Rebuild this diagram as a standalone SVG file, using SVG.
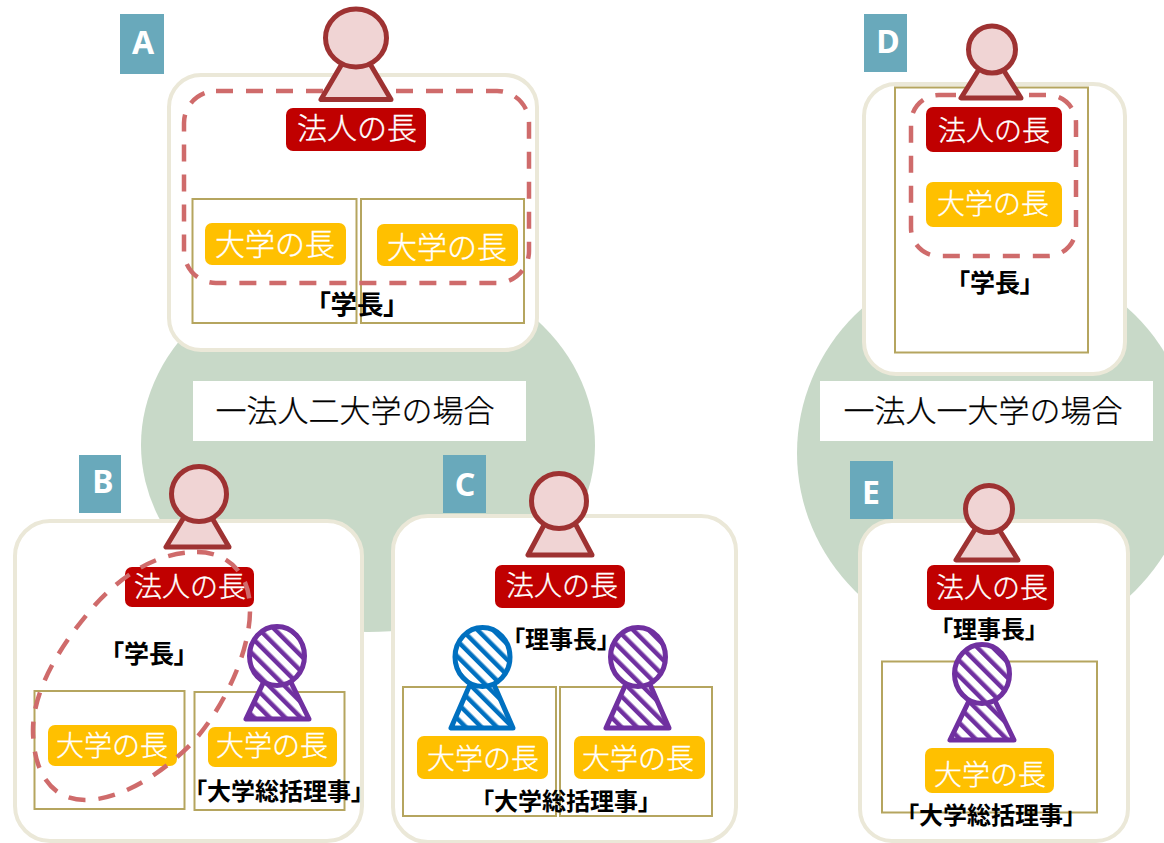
<svg xmlns="http://www.w3.org/2000/svg" width="1164" height="843" viewBox="0 0 1164 843">
<style>
text{font-family:"Noto Sans CJK JP","Noto Sans",sans-serif;text-anchor:middle}
.bg{fill:#c8d9c8}
.panel{fill:#fff;stroke:#ebe8d8;stroke-width:4}
.badge{fill:#69a9bb}
.bt{font-family:"Noto Sans",sans-serif;font-weight:700;font-size:32px;fill:#fff}
.cap{fill:#fff}
.capt{font-size:31px;fill:#000;font-weight:300;stroke:#000;stroke-width:.25px}
.box{fill:none;stroke:#b5a55f;stroke-width:2}
.dash{fill:none;stroke:#cf6b6b;stroke-width:4.500;stroke-dasharray:17 13}
.red{fill:#c00000}
.yel{fill:#ffc000}
.lt{fill:#fff;font-size:28px;font-weight:300;stroke:#fff;stroke-width:.35px}
.lg{fill:#fff;font-size:30px;font-weight:300;stroke:#fff;stroke-width:.35px}
.bold{font-weight:700;font-size:24px;fill:#000;font-feature-settings:"palt"}
.b2{font-size:25px}
.b3{font-size:26.500px}
.p{fill:#f0d4d4;stroke:#9e3232;stroke-width:5;stroke-linejoin:round}
.s-p{fill:url(#sp);stroke:#7030a0;stroke-width:5;stroke-linejoin:round}
.s-b{fill:url(#sb);stroke:#0070c0;stroke-width:5;stroke-linejoin:round}
</style>
<defs>
<pattern id="sp" width="11" height="11" patternUnits="userSpaceOnUse" patternTransform="rotate(-45)"><rect width="11" height="11" fill="#fff"/><rect width="4.500" height="11" fill="#7030a0"/></pattern>
<pattern id="sb" width="11" height="11" patternUnits="userSpaceOnUse" patternTransform="rotate(-45)"><rect width="11" height="11" fill="#fff"/><rect width="4.500" height="11" fill="#0070c0"/></pattern>
</defs>
<g id="background">
<ellipse class="bg" cx="368" cy="445" rx="227" ry="187"/>
<ellipse class="bg" cx="995" cy="453" rx="198" ry="195"/>
<rect class="cap" x="193" y="381" width="333" height="60"/>
<text class="capt" x="355" y="422">一法人二大学の場合</text>
<rect class="cap" x="820" y="381" width="333" height="60"/>
<text class="capt" x="983" y="422">一法人一大学の場合</text>
</g>
<g id="node-A">
<rect class="panel" x="169" y="75" width="368" height="275" rx="32"/>
<rect class="badge" x="120" y="14" width="44" height="60"/>
<text class="bt" x="143" y="54">A</text>
<rect class="box" x="192.500" y="199" width="164" height="124"/>
<rect class="box" x="361" y="199" width="163" height="124"/>
<rect class="red" x="286" y="108" width="140" height="43" rx="7"/>
<text class="lg" x="357" y="139">法人の長</text>
<rect class="yel" x="205" y="223" width="141" height="42" rx="7"/>
<text class="lg" x="275" y="255">大学の長</text>
<rect class="yel" x="377" y="224" width="141" height="42" rx="7"/>
<text class="lg" x="447" y="258">大学の長</text>
<rect class="dash" x="184" y="91" width="345" height="192" rx="32"/>
<text class="bold b3" x="357" y="314">「学長」</text>
<path class="p" d="M321,99.500 L391,99.500 L356,40 Z"/>
<ellipse class="p" cx="356" cy="38" rx="30.500" ry="29"/>
</g>
<g id="node-B">
<rect class="panel" x="15" y="521" width="347" height="320" rx="35"/>
<rect class="badge" x="79" y="455" width="42" height="58"/>
<text class="bt" x="103" y="493">B</text>
<rect class="box" x="34.500" y="691" width="150" height="118"/>
<rect class="box" x="194.500" y="692" width="150" height="118"/>
<rect class="red" x="125" y="567" width="129" height="40" rx="7"/>
<text class="lt" x="190" y="597">法人の長</text>
<rect class="yel" x="48" y="725" width="129" height="41" rx="7"/>
<text class="lt" x="112" y="756">大学の長</text>
<rect class="yel" x="208" y="727" width="129" height="40" rx="7"/>
<text class="lt" x="272" y="756">大学の長</text>
<path class="dash" d="M197,552 C225,552 250,570 250,610 C250,660 215,720 190,745 C160,775 120,800 85,800 C50,800 33,770 33,730 C33,690 60,645 95,605 C125,572 160,552 197,552 Z"/>
<text class="bold b2" x="149" y="663">「学長」</text>
<text class="bold" x="279" y="800">「大学総括理事」</text>
<path class="p" d="M166,547 L229,547 L198,494 Z"/>
<circle class="p" cx="199" cy="494" r="27.500"/>
<path class="s-p" d="M246,719 L309,719 L277,654 Z"/>
<ellipse class="s-p" cx="277" cy="656" rx="27.500" ry="29.500"/>
</g>
<g id="node-C">
<rect class="panel" x="393" y="516" width="343" height="326" rx="35"/>
<rect class="badge" x="443" y="455" width="43" height="58"/>
<text class="bt" x="465" y="496">C</text>
<rect class="box" x="403" y="687" width="153" height="129"/>
<rect class="box" x="560" y="687" width="152" height="129"/>
<rect class="red" x="495" y="565" width="130" height="43" rx="7"/>
<text class="lt" x="562" y="596">法人の長</text>
<rect class="yel" x="417" y="736" width="131" height="43" rx="7"/>
<text class="lt" x="483" y="769">大学の長</text>
<rect class="yel" x="574" y="736" width="131" height="43" rx="7"/>
<text class="lt" x="638" y="769">大学の長</text>
<path class="p" d="M528,555 L592,555 L560,495 Z"/>
<circle class="p" cx="559" cy="501" r="27.500"/>
<path class="s-b" d="M451,728 L513,728 L482,657 Z"/>
<ellipse class="s-b" cx="482.500" cy="657" rx="27.500" ry="29.500"/>
<path class="s-p" d="M606,728 L669,728 L638,657 Z"/>
<ellipse class="s-p" cx="638" cy="657" rx="27.500" ry="29.500"/>
<text class="bold" x="561" y="648">「理事長」</text>
<text class="bold" x="566" y="810">「大学総括理事」</text>
</g>
<g id="node-D">
<rect class="panel" x="864" y="84" width="261" height="290" rx="32"/>
<rect class="badge" x="864" y="14" width="43" height="58"/>
<text class="bt" x="888" y="53">D</text>
<rect class="box" x="895" y="87.500" width="193" height="265"/>
<rect class="red" x="926" y="107" width="136" height="45" rx="7"/>
<text class="lt" x="994" y="141">法人の長</text>
<rect class="yel" x="926" y="182" width="136" height="45" rx="7"/>
<text class="lt" x="993" y="214">大学の長</text>
<rect class="dash" x="911" y="95" width="165" height="161" rx="28"/>
<text class="bold b2" x="995" y="292">「学長」</text>
<path class="p" d="M961,98 L1021,98 L991,50 Z"/>
<circle class="p" cx="992" cy="49.500" r="23.500"/>
</g>
<g id="node-E">
<rect class="panel" x="860" y="521" width="268" height="320" rx="32"/>
<rect class="badge" x="850" y="461" width="43" height="58"/>
<text class="bt" x="871" y="504">E</text>
<rect class="box" x="882" y="661.500" width="215" height="151"/>
<rect class="red" x="927" y="565" width="127" height="45" rx="7"/>
<text class="lt" x="992" y="598">法人の長</text>
<rect class="yel" x="925" y="748" width="129" height="45" rx="7"/>
<text class="lt" x="990" y="785">大学の長</text>
<path class="p" d="M956,560 L1018,560 L987,510 Z"/>
<circle class="p" cx="989" cy="509" r="23.500"/>
<text class="bold" x="989" y="638">「理事長」</text>
<path class="s-p" d="M950,740 L1014,740 L982,674 Z"/>
<ellipse class="s-p" cx="982" cy="674" rx="27.500" ry="29.500"/>
<text class="bold" x="991" y="824">「大学総括理事」</text>
</g>
</svg>
